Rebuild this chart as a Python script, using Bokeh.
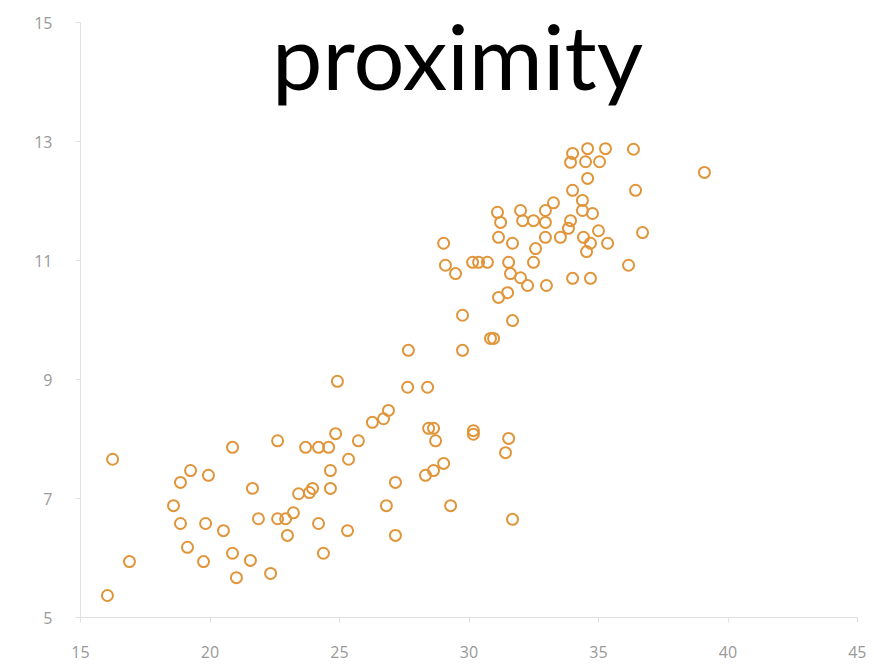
from bokeh.plotting import figure
from bokeh.models import Range1d, Label, FixedTicker, ColumnDataSource
from bokeh.embed import file_html
from bokeh.resources import INLINE

x_vals = [16.04, 16.24, 16.89, 18.59, 18.86, 19.25, 18.86, 19.13, 19.94, 19.83,
          19.75, 20.52, 20.87, 20.87, 21.02, 21.56, 21.64, 21.87, 22.34, 22.61,
          22.61, 22.92, 22.99, 23.22, 23.42, 23.69, 23.84, 23.96, 24.19, 24.19,
          24.38, 24.58, 24.65, 24.65, 24.85, 24.92, 25.31, 25.35, 25.73, 26.27,
          26.70, 26.89, 26.81, 27.16, 27.16, 27.66, 27.63, 28.32, 28.40, 28.44,
          28.63, 28.63, 28.71, 29.02, 29.29, 30.17, 30.17, 31.53, 31.41, 31.68,
          29.02, 29.09, 29.48, 29.75, 29.75, 30.14, 30.37, 30.71, 30.83, 30.95,
          31.10, 31.22, 31.14, 31.14, 31.49, 31.53, 31.60, 31.68, 31.68, 31.99,
          31.99, 32.07, 32.26, 32.49, 32.57, 32.49, 32.95, 32.95, 32.95, 32.99,
          33.26, 33.53, 33.84, 33.92, 34.00, 33.92, 34.58, 34.50, 35.27, 35.04,
          36.35, 34.58, 36.43, 34.00, 34.38, 34.38, 34.77, 34.42, 35.00, 34.69,
          35.35, 34.54, 36.70, 36.16, 34.00, 34.69, 39.09]
y_vals = [5.37, 7.66, 5.94, 6.88, 7.27, 7.47, 6.58, 6.18, 7.39, 6.58,
          5.94, 6.46, 7.86, 6.08, 5.67, 5.96, 7.17, 6.66, 5.74, 7.97,
          6.66, 6.66, 6.38, 6.76, 7.08, 7.86, 7.10, 7.17, 6.58, 7.86,
          6.08, 7.86, 7.47, 7.17, 8.09, 8.97, 6.46, 7.66, 7.97, 8.28,
          8.34, 8.48, 6.88, 6.38, 7.27, 9.49, 8.87, 7.39, 8.87, 8.18,
          8.18, 7.47, 7.97, 7.59, 6.88, 8.14, 8.08, 8.01, 7.77, 6.65,
          11.29, 10.92, 10.78, 10.08, 9.49, 10.97, 10.97, 10.97, 9.69, 9.69,
          11.81, 11.64, 11.39, 10.38, 10.46, 10.97, 10.78, 11.29, 9.99, 10.71,
          11.84, 11.67, 10.58, 10.97, 11.20, 11.67, 11.84, 11.64, 11.39, 10.58,
          11.97, 11.39, 11.54, 11.67, 12.80, 12.65, 12.88, 12.66, 12.88, 12.66,
          12.87, 12.38, 12.18, 12.18, 12.01, 11.84, 11.79, 11.39, 11.50, 11.29,
          11.29, 11.15, 11.47, 10.92, 10.70, 10.70, 12.48]

x_ticks = [15, 20, 25, 30, 35, 40, 45]
y_ticks = [5, 7, 9, 11, 13, 15]
title_text = "proximity"

src = ColumnDataSource(data=dict(x=x_vals, y=y_vals))

p = figure(width=866, height=664, output_backend="svg", toolbar_location=None,
           x_range=Range1d(15, 45), y_range=Range1d(5, 15),
           min_border_left=80, min_border_right=9, min_border_top=22, min_border_bottom=47)
p.outline_line_color = None
p.xgrid.visible = False
p.ygrid.visible = False
p.background_fill_color = "white"
p.border_fill_color = "white"

p.scatter("x", "y", source=src, size=11, marker="circle", fill_color=None,
          line_color="#E0953A", line_width=2)

for ax in (p.xaxis[0], p.yaxis[0]):
    ax.axis_line_color = "#e0e0e0"
    ax.major_tick_line_color = "#e0e0e0"
    ax.major_tick_out = 5
    ax.major_tick_in = 0
    ax.minor_tick_line_color = None
    ax.major_label_text_color = "#999999"
    ax.major_label_text_font = "Open Sans"
    ax.major_label_text_font_size = "16px"
    ax.major_label_standoff = 23

p.xaxis[0].ticker = FixedTicker(ticks=x_ticks)
p.yaxis[0].ticker = FixedTicker(ticks=y_ticks)

title = Label(x=29.56, y=14.46, text=title_text, text_align="center",
              text_baseline="alphabetic", text_font="Lato",
              text_font_size="90px", text_color="black")
p.add_layout(title)

open("out.html", "w").write(file_html(p, INLINE))
